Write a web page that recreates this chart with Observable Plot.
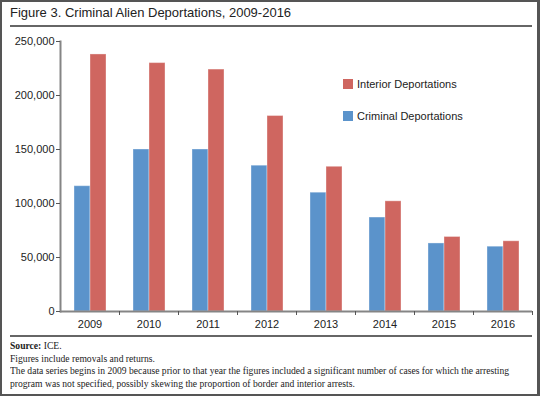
<!DOCTYPE html>
<html>
<head>
<meta charset="utf-8">
<script src="https://cdn.jsdelivr.net/npm/d3@7"></script>
<script src="https://cdn.jsdelivr.net/npm/@observablehq/plot@0.6"></script>
<style>
  html, body { margin: 0; padding: 0; background: #fff; }
  #wrap { position: relative; width: 540px; height: 396px; overflow: hidden; background: #fff; }
  .abs { position: absolute; }
  #border { left: 0; top: 0; width: 540px; height: 396px; box-sizing: border-box; border: 2px solid #555; border-right-width: 3px; }
  #title { left: 10px; top: 5px; font: 13px "Liberation Sans", Arial, sans-serif; color: #222; line-height: 16px; white-space: nowrap; }
  .rule { background: #666; left: 10px; width: 522px; }
  #chart { left: 0; top: 30px; }
  .leg { font: 11px "Liberation Sans", Arial, sans-serif; color: #222; white-space: nowrap; line-height: 12px; }
  .sw { width: 10px; height: 10px; }
  #foot { left: 10px; top: 340px; font: 10.4px "Liberation Serif", "Times New Roman", serif; color: #222; line-height: 12.6px; white-space: nowrap; transform: scaleX(0.925); transform-origin: 0 0; }
</style>
</head>
<body>
<div id="wrap">
  <div id="title" class="abs">Figure 3. Criminal Alien Deportations, 2009-2016</div>
  <div class="abs rule" style="top:25px;height:2px;"></div>
  <div id="chart" class="abs"></div>
  <div id="legend"></div>
  <div class="abs rule" style="top:335px;height:1.5px;"></div>
  <div id="foot" class="abs"></div>
  <div id="border" class="abs"></div>
</div>
<script>
const years = ["2009", "2010", "2011", "2012", "2013", "2014", "2015", "2016"];
const criminal = [116000, 150000, 150000, 135000, 110000, 87000, 63000, 60000];
const interior = [238000, 230000, 224000, 181000, 134000, 102000, 69000, 65000];
const seriesNames = ["Criminal Deportations", "Interior Deportations"];
const seriesColors = ["#5b93cb", "#cf6660"];
const yTicks = [0, 50000, 100000, 150000, 200000, 250000];
const footLines = [
  "Figures include removals and returns.",
  "The data series begins in 2009 because prior to that year the figures included a significant number of cases for which the arresting",
  "program was not specified, possibly skewing the proportion of border and interior arrests."
];

const data = years.flatMap((y, i) => [
  {year: y, series: seriesNames[0], value: criminal[i]},
  {year: y, series: seriesNames[1], value: interior[i]}
]);

const chart = Plot.plot({
  width: 540,
  height: 305,
  marginLeft: 60,
  marginRight: 8,
  marginTop: 11,
  marginBottom: 24,
  style: {fontFamily: "'Liberation Sans', Arial, sans-serif", fontSize: "11px", color: "#222", background: "transparent"},
  fx: {domain: years, padding: 0, label: null, axis: null},
  x: {domain: seriesNames, paddingInner: 0, paddingOuter: 0.79, axis: null},
  y: {domain: [0, 250000], axis: null},
  color: {domain: seriesNames, range: seriesColors},
  marks: [
    Plot.barY(data, {fx: "year", x: "series", y: "value", fill: "series", stroke: "#fff", strokeOpacity: 0.35, strokeWidth: 1}),
    Plot.ruleY([0], {stroke: "#858585", strokeWidth: 2}),
    Plot.frame({anchor: "left", stroke: "#858585", strokeWidth: 2, facetAnchor: "left"}),
    Plot.axisY(yTicks, {tickFormat: d3.format(","), tickSize: 4, tickPadding: 2, stroke: "#555", fill: "#222", label: null}),
    Plot.axisFx({anchor: "bottom", tickSize: 0, tickPadding: 9, label: null, fill: "#222"}),
    Plot.axisFx({anchor: "bottom", tickSize: 4, tickFormat: () => "", dx: 29.5, label: null, stroke: "#555"})
  ]
});
document.getElementById("chart").appendChild(chart);

// legend (Interior first, as in the reference)
const legend = document.getElementById("legend");
[[1, 79], [0, 111]].forEach(([k, top]) => {
  const sw = document.createElement("div");
  sw.className = "abs sw";
  sw.style.left = "343px";
  sw.style.top = top + "px";
  sw.style.background = seriesColors[k];
  legend.appendChild(sw);
  const t = document.createElement("div");
  t.className = "abs leg";
  t.style.left = "357px";
  t.style.top = (top - 1) + "px";
  t.textContent = seriesNames[k];
  legend.appendChild(t);
});

const foot = document.getElementById("foot");
foot.innerHTML = "<b>Source:</b> ICE.";
footLines.forEach(l => {
  foot.appendChild(document.createElement("br"));
  foot.appendChild(document.createTextNode(l));
});
</script>
</body>
</html>
